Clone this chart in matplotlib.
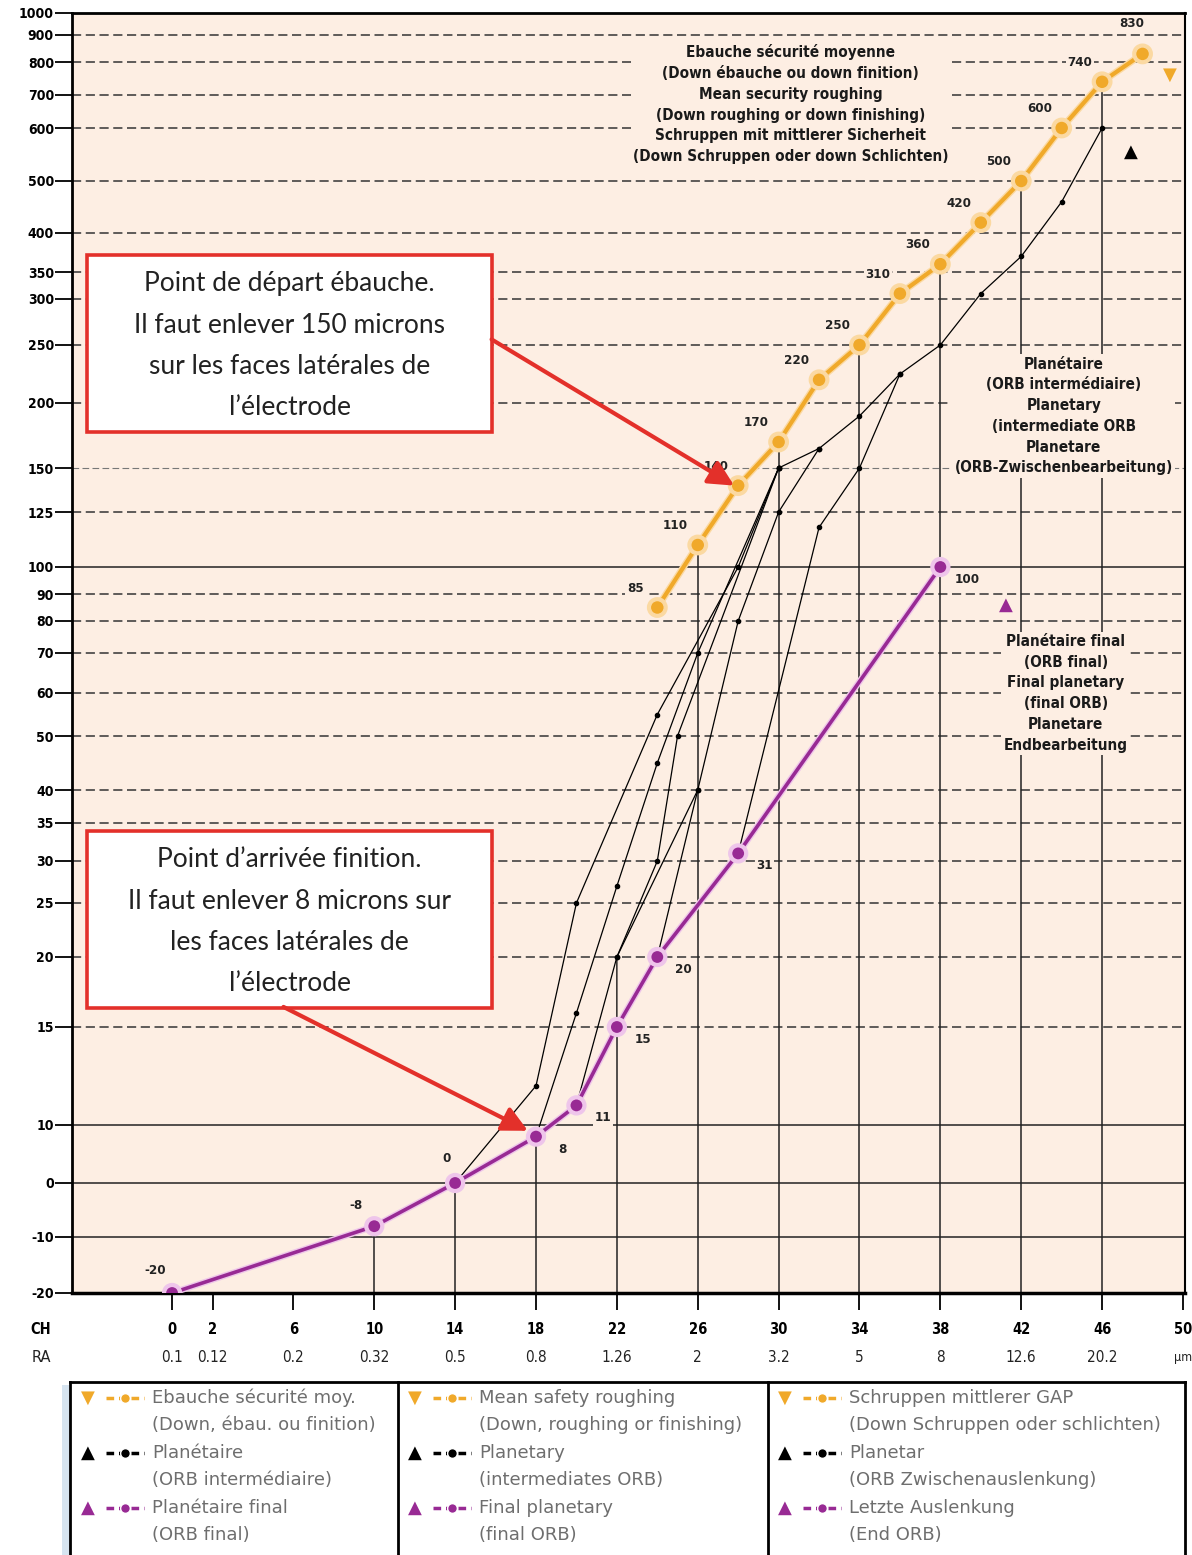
import numpy as np
import matplotlib.pyplot as plt
import matplotlib.patheffects as pe
from matplotlib.patches import Rectangle
from matplotlib.lines import Line2D

# y axis is printed with an irregular scale: tick value -> height (px) above the x axis
Y_TICKS = [-20, -10, 0, 10, 15, 20, 25, 30, 35, 40, 50, 60, 70, 80, 90, 100,
           125, 150, 200, 250, 300, 350, 400, 500, 600, 700, 800, 900, 1000]
Y_HEIGHT = [0, 56, 110, 168, 266, 336, 390, 432, 470, 503, 557, 600, 640, 672, 699, 726,
            781, 825, 890, 948, 994, 1021, 1060, 1112, 1165, 1198, 1231, 1258, 1280]
SOLID_Y = [-10, 0, 10, 100]

CH = [0, 2, 6, 10, 14, 18, 22, 26, 30, 34, 38, 42, 46, 50]
RA = ["0.1", "0.12", "0.2", "0.32", "0.5", "0.8", "1.26", "2", "3.2", "5", "8", "12.6", "20.2", "µm"]
VLINE_CH = [10, 14, 18, 22, 26, 30, 34, 38, 42, 46]

# Ebauche securite moyenne (orange)
ORANGE_CH = [24, 26, 28, 30, 32, 34, 36, 38, 40, 42, 44, 46, 48]
ORANGE_GAP = [85, 110, 140, 170, 220, 250, 310, 360, 420, 500, 600, 740, 830]

# Planetaire final (purple)
PURPLE_CH = [0, 10, 14, 18, 20, 22, 24, 28, 38]
PURPLE_GAP = [-20, -8, 0, 8, 11, 15, 20, 31, 100]

# Planetaire / ORB intermediaire (black branches)
ORB_BRANCHES = [
    ([14, 18, 20, 24, 28, 30], [0, 12, 25, 55, 100, 150]),
    ([18, 20, 22, 24, 26, 30], [8, 16, 27, 45, 70, 150]),
    ([20, 22, 24, 25, 30], [11, 20, 30, 50, 150]),
    ([22, 22, 26, 28, 30, 32], [15, 20, 40, 80, 125, 165]),
    ([24, 26], [20, 40]),
    ([28, 32, 34, 36], [31, 118, 150, 225]),
]
ORB_TOP_CH = [30, 32, 34, 36, 38, 40, 42, 44, 46]
ORB_TOP_GAP = [150, 165, 190, 225, 250, 310, 370, 460, 600]

LEGEND = [
    [("Ebauche sécurité moy.", "(Down, ébau. ou finition)"),
     ("Planétaire", "(ORB intermédiaire)"),
     ("Planétaire final", "(ORB final)")],
    [("Mean safety roughing", "(Down, roughing or finishing)"),
     ("Planetary", "(intermediates ORB)"),
     ("Final planetary", "(final ORB)")],
    [("Schruppen mittlerer GAP", "(Down Schruppen oder schlichten)"),
     ("Planetar", "(ORB Zwischenauslenkung)"),
     ("Letzte Auslenkung", "(End ORB)")],
]

ORANGE = "#f0a92a"
PURPLE = "#982a94"
RED = "#e3302a"
BG = "#fdeee3"
W, H = 1192, 1555


def fx(px):
    return px / W


def fy(py):
    return 1 - py / H


fig = plt.figure(figsize=(W / 100, H / 100), dpi=100)
ax = fig.add_axes([fx(72), fy(1293), fx(1185) - fx(72), fy(13) - fy(1293)])
ax.set_facecolor(BG)
ax.set_yscale("function", functions=(lambda v: np.interp(v, Y_TICKS, Y_HEIGHT),
                                     lambda h: np.interp(h, Y_HEIGHT, Y_TICKS)))
ax.set_ylim(-20, 1000)
ax.set_xlim(-4.95, 50.1)

for s, w in zip(["left", "bottom", "top", "right"], [2.0, 2.5, 2.0, 1.5]):
    ax.spines[s].set_linewidth(w)

bold = dict(fontweight="bold", fontstretch="condensed")
ax.set_yticks(Y_TICKS, labels=[str(t) for t in Y_TICKS])
ax.tick_params(axis="y", length=12, width=1.3, pad=1, labelsize=10)
ax.set_xticks(CH, labels=[str(c) for c in CH])
ax.tick_params(axis="x", length=12, width=1.3, pad=9, labelsize=10.5)
[t.set(**bold) for t in ax.get_yticklabels() + ax.get_xticklabels()]
for c, r in zip(CH, RA):
    ax.text(c, -0.05, r, transform=ax.get_xaxis_transform(), ha="center", va="center",
            fontsize=9 if r == "µm" else 11, color="#222", fontstretch="condensed")
fig.text(fx(41), fy(1330), "CH", ha="center", va="center", fontsize=10.5, **bold)
fig.text(fx(41), fy(1357), "RA", ha="center", va="center", fontsize=10.5, color="#222")

# horizontal grid
for v in Y_TICKS[1:-1]:
    if v in SOLID_Y:
        ax.axhline(v, color="#222", lw=1.1, zorder=1)
    elif v == 150:
        ax.axhline(v, color="#777", lw=0.8, ls=(0, (6, 3)), zorder=1)
    else:
        ax.axhline(v, color="#333", lw=1.1, ls=(0, (6, 3)), zorder=1)

# vertical lines up to the curves
for c in VLINE_CH:
    top = ORANGE_GAP[ORANGE_CH.index(c)] if c in ORANGE_CH else PURPLE_GAP[PURPLE_CH.index(c)]
    ax.vlines(c, -20, top, color="#222", lw=1.1, zorder=1.5)

# black branches
for bx, by in ORB_BRANCHES:
    ax.plot(bx, by, "-o", color="k", lw=0.9, ms=3, zorder=3.5)
ax.plot(ORB_TOP_CH, ORB_TOP_GAP, "-o", color="k", lw=0.9, ms=3, zorder=3.5)

# orange and purple curves
glow_o = [pe.Stroke(linewidth=5, foreground="#fbd9a2"), pe.Normal()]
ax.plot(ORANGE_CH, ORANGE_GAP, "-o", color=ORANGE, lw=3, ms=10, mec="#fbd9a2", mew=1,
        path_effects=glow_o, zorder=5)
glow_p = [pe.Stroke(linewidth=4.6, foreground="#eec6ea"), pe.Normal()]
ax.plot(PURPLE_CH, PURPLE_GAP, "-o", color=PURPLE, lw=2.6, ms=10, mec="#f0c4ec", mew=1.5,
        path_effects=glow_p, zorder=5)

lab = dict(fontsize=9.5, color="#222", ha="center", va="center", zorder=4,
           bbox=dict(boxstyle="square,pad=0.12", fc=BG, ec="none"), **bold)
for c, g in zip(ORANGE_CH, ORANGE_GAP):
    off = (-8, 22) if g == ORANGE_GAP[-1] else (-16, 14)
    ax.annotate(str(g), (c, g), xytext=off, textcoords="offset points", **lab)
for i, (c, g) in enumerate(zip(PURPLE_CH, PURPLE_GAP)):
    off = [(-12, 16), (-13, 15), (-6, 18)][i] if i < 3 else (19, -9)
    ax.annotate(str(g), (c, g), xytext=off, textcoords="offset points", **lab)

# series symbols
ax.annotate("▼", (ORANGE_CH[-1], ORANGE_GAP[-1]), xytext=(20, -15), textcoords="offset points",
            color=ORANGE, fontsize=13, ha="center", va="center")
ax.annotate("▲", (ORB_TOP_CH[-1], ORB_TOP_GAP[-1]), xytext=(21, -17), textcoords="offset points",
            color="k", fontsize=13, ha="center", va="center")
ax.annotate("▲", (PURPLE_CH[-1], PURPLE_GAP[-1]), xytext=(47, -27), textcoords="offset points",
            color=PURPLE, fontsize=13, ha="center", va="center")

# text blocks inside the chart
blk = dict(ha="center", va="top", fontsize=11, linespacing=1.48, color="#1a1a1a", zorder=3,
           bbox=dict(boxstyle="square,pad=0.15", fc=BG, ec="none"), **bold)
ax.text(30.6, 865, "Ebauche sécurité moyenne\n(Down ébauche ou down finition)\n"
        "Mean security roughing\n(Down roughing or down finishing)\n"
        "Schruppen mit mittlerer Sicherheit\n(Down Schruppen oder down Schlichten)", **blk)
ax.text(44.1, 240, "Planétaire\n(ORB intermédiaire)\nPlanetary\n(intermediate ORB\n"
        "Planetare\n(ORB-Zwischenbearbeitung)", **blk)
ax.text(44.2, 76, "Planétaire final\n(ORB final)\nFinal planetary\n(final ORB)\n"
        "Planetare\nEndbearbeitung", **blk)

# red call-out boxes
notes = [((0.0135, 0.673), "Point de départ ébauche.\nIl faut enlever 150 microns\n"
          "sur les faces latérales de\nl’électrode", (0.377, 0.745), (27.8, 140)),
         ((0.0135, 0.223), "Point d’arrivée finition.\nIl faut enlever 8 microns sur\n"
          "les faces latérales de\nl’électrode", (0.19, 0.2235), (17.6, 9))]
for (x0, y0), txt, start, tip in notes:
    ax.add_patch(Rectangle((x0, y0), 0.364, 0.138, transform=ax.transAxes, fc="white",
                           ec=RED, lw=2.6, zorder=6))
    ax.text(x0 + 0.182, y0 + 0.067, txt, transform=ax.transAxes, ha="center", va="center",
            fontsize=19, family="Lato", linespacing=1.82, color="#222", zorder=7)
    ax.annotate("", xy=tip, xytext=start, textcoords="axes fraction",
                arrowprops=dict(arrowstyle="-|>,head_length=0.9,head_width=0.45", color=RED,
                                lw=3, mutation_scale=17, shrinkA=0, shrinkB=0), zorder=7)

# legend panel below the chart
fig.add_artist(Rectangle((fx(62), 0), fx(70) - fx(62), fy(1385), transform=fig.transFigure,
                         fc="#d6e4f0", ec="none"))
for xs, ys in [([70, 1185], [1382, 1382]), ([70, 70], [1382, 1560]), ([1185, 1185], [1382, 1560]),
               ([398, 398], [1382, 1560]), ([768, 768], [1382, 1560])]:
    fig.add_artist(Line2D([fx(x) for x in xs], [fy(y) for y in ys], color="k", lw=2,
                          transform=fig.transFigure))
col_x = [78, 405, 775]
row_y = [1398, 1453, 1508]
sym = [("▼", ORANGE), ("▲", "k"), ("▲", PURPLE)]
for cx, entries in zip(col_x, LEGEND):
    for ry, (l1, l2), (s, c) in zip(row_y, entries, sym):
        fig.text(fx(cx + 10), fy(ry), s, color=c, fontsize=13, ha="center", va="center")
        fig.add_artist(Line2D([fx(cx + 28), fx(cx + 66)], [fy(ry), fy(ry)], color=c, lw=2.5,
                              ls=(0, (2.2, 1.4)), transform=fig.transFigure))
        fig.add_artist(Line2D([fx(cx + 47)], [fy(ry)], color=c, marker="o", ms=7, mec="white",
                              mew=1, transform=fig.transFigure))
        fig.text(fx(cx + 74), fy(ry), l1, color="#6e6e6e", fontsize=13, va="center")
        fig.text(fx(cx + 74), fy(ry + 27), l2, color="#6e6e6e", fontsize=13, va="center")

fig.savefig("out.png", dpi=100)
